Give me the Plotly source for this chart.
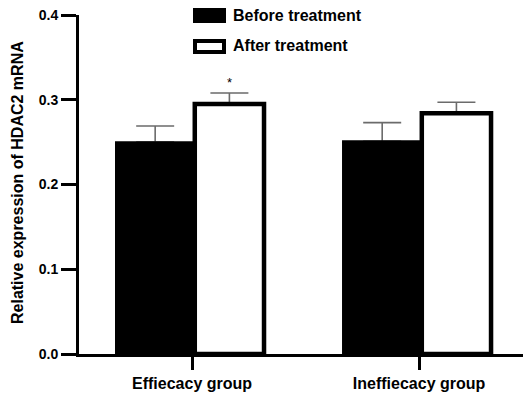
import plotly.graph_objects as go

categories = ["Effiecacy group", "Ineffiecacy group"]
series_names = ["Before treatment", "After treatment"]
before = [0.250, 0.251]
before_err = [0.019, 0.022]
after = [0.295, 0.284]
after_err = [0.013, 0.013]
y_ticks = [0.0, 0.1, 0.2, 0.3, 0.4]
y_tick_labels = ["0.0", "0.1", "0.2", "0.3", "0.4"]

FONT = "Arial, 'Liberation Sans', sans-serif"
PAGE = 8  # default body margin of the html page
W, H = 531 - PAGE, 395 - PAGE
L, R, T, B = 79 - PAGE, 0, 15 - PAGE, 41
PW, PH = W - L - R, H - T - B


def px_x(p):
    # p: pixel in window coordinates
    return (p - PAGE - L) / PW


def px_y(p):
    return (H - B - (p - PAGE)) / PH


err_style = dict(type="data", symmetric=False, arrayminus=[0, 0],
                 color="#6b6b6b", thickness=1.6, width=19)

fig = go.Figure()
# error bars carried by transparent bars drawn first (so the real bars hide the lower caps)
fig.add_trace(go.Bar(
    x=categories, y=before, offset=-0.335, width=0.345,
    marker=dict(color="rgba(0,0,0,0)", line=dict(width=0)),
    error_y=dict(array=before_err, **err_style), hoverinfo="skip",
    showlegend=False,
))
fig.add_trace(go.Bar(
    x=categories, y=after, offset=0.012, width=0.305,
    marker=dict(color="rgba(0,0,0,0)", line=dict(width=0)),
    error_y=dict(array=after_err, **err_style), hoverinfo="skip",
    showlegend=False,
))
fig.add_trace(go.Bar(
    x=categories, y=before, name=series_names[0],
    offset=-0.335, width=0.345,
    marker=dict(color="black", line=dict(color="black", width=2)),
    showlegend=False,
))
fig.add_trace(go.Bar(
    x=categories, y=after, name=series_names[1],
    offset=0.012, width=0.305,
    marker=dict(color="white", line=dict(color="black", width=4.5)),
    showlegend=False,
))

# significance marker
fig.add_annotation(x=categories[0], y=after[0] + after_err[0], xshift=37,
                   yshift=1, yanchor="bottom", text="*", showarrow=False,
                   font=dict(family=FONT, size=13, color="black"))

# y title
fig.add_annotation(xref="paper", yref="paper", x=px_x(17), y=px_y(183),
                   text="<b>Relative expression of HDAC2 mRNA</b>",
                   textangle=-90, showarrow=False, xanchor="center",
                   yanchor="middle",
                   font=dict(family=FONT, size=16, color="black"))

# manual legend
fig.add_shape(type="rect", xref="paper", yref="paper",
              x0=px_x(193), x1=px_x(226), y0=px_y(23), y1=px_y(7),
              fillcolor="black", line=dict(width=0))
fig.add_shape(type="rect", xref="paper", yref="paper",
              x0=px_x(195), x1=px_x(224), y0=px_y(52), y1=px_y(41),
              fillcolor="white", line=dict(color="black", width=4))
fig.add_annotation(xref="paper", yref="paper", x=px_x(231), y=px_y(15),
                   text="<b>" + series_names[0] + "</b>", showarrow=False,
                   xanchor="left", yanchor="middle",
                   font=dict(family=FONT, size=16, color="black"))
fig.add_annotation(xref="paper", yref="paper", x=px_x(231), y=px_y(46),
                   text="<b>" + series_names[1] + "</b>", showarrow=False,
                   xanchor="left", yanchor="middle",
                   font=dict(family=FONT, size=16, color="black"))

fig.update_layout(
    width=W, height=H, barmode="overlay",
    margin=dict(l=L, r=R, t=T, b=B),
    plot_bgcolor="white", paper_bgcolor="white",
    showlegend=False,
    font=dict(family=FONT, color="black"),
)
fig.update_xaxes(
    type="category", range=[-0.498, 1.493],
    showline=True, linecolor="black", linewidth=3,
    ticks="outside", ticklen=13, tickwidth=2.5, tickcolor="black",
    tickfont=dict(family=FONT, size=16, color="black", weight="bold"),
    showgrid=False, zeroline=False,
)
fig.update_yaxes(
    range=[0, 0.4], tickvals=y_ticks, ticktext=y_tick_labels,
    showline=True, linecolor="black", linewidth=3,
    ticks="outside", ticklen=15, tickwidth=3, tickcolor="black",
    tickfont=dict(family=FONT, size=14, color="black", weight="bold"),
    ticklabeloverflow="allow",
    showgrid=False, zeroline=False,
)

fig.write_html("out.html")
